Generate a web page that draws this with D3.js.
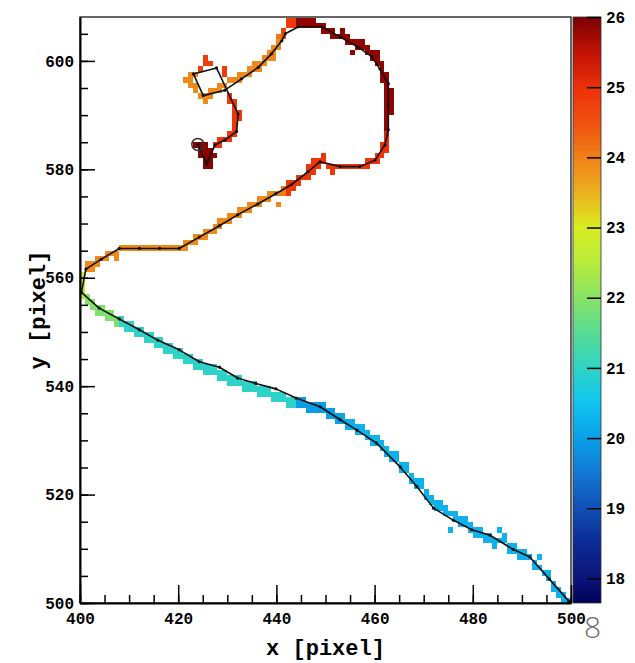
<!DOCTYPE html>
<html>
<head>
<meta charset="utf-8">
<script src="https://cdn.jsdelivr.net/npm/d3@7"></script>
<style>
  body { margin: 0; background: #fff; }
</style>
</head>
<body>
<div id="chart"></div>
<script>
// axis ranges and tick labels
const xDomain = [400, 500];
const yDomain = [500, 608.1];
const zDomain = [17.65, 26];
const xTicks = [400, 420, 440, 460, 480, 500];
const yTicks = [500, 520, 540, 560, 580, 600];
const zTicks = [18, 19, 20, 21, 22, 23, 24, 25, 26];
const minorStep = 5;

// palette stops (value -> colour) as seen on the colour bar
const paletteStops = [17.65, 18, 18.5, 19, 19.5, 20, 20.5, 21, 21.5, 22, 22.5, 23, 23.5, 24, 24.5, 25, 25.5, 26];
const paletteColors = ["#00005a", "#0a1478", "#0c2a94", "#1050b4", "#1278d4", "#0aa0e8", "#10c4f0", "#30d4c4",
  "#58dc94", "#88e264", "#b8ec3c", "#d8ec20", "#ecb020", "#f08018", "#f05010", "#ec3008", "#c01206", "#7a0000"];

// fitted track (black line with points)
const trackX = [499.6, 495.6, 491.6, 488.2, 483.5, 479.8, 476.0, 472.0, 468.6, 465.2, 460.4, 456.4, 453.0, 448.9,
  444.0, 439.9, 435.8, 432.1, 428.4, 424.3, 420.2, 415.8, 412.1, 408.0, 403.9, 400.3, 401.2, 404.3, 408.0, 412.1,
  416.2, 420.2, 424.3, 428.4, 432.1, 436.2, 439.9, 443.1, 446.5, 448.9, 453.0, 457.0, 460.1, 462.1, 462.8, 462.8,
  462.8, 461.1, 459.4, 456.7, 453.0, 449.2, 444.5, 441.8, 441.1, 439.0, 436.3, 432.9, 429.5, 425.1, 423.1, 427.8,
  432.2, 431.9, 429.5, 427.5, 425.8, 424.0];
const trackY = [500.3, 504.4, 508.5, 509.9, 512.5, 513.5, 515.3, 517.5, 521.5, 525.1, 529.5, 531.9, 533.8, 536.2,
  537.8, 539.5, 540.5, 541.5, 543.5, 544.5, 546.7, 548.5, 550.4, 552.4, 554.4, 557.3, 561.6, 563.4, 565.4, 565.4,
  565.4, 565.4, 567.5, 569.6, 571.6, 573.6, 575.5, 577.2, 579.6, 581.4, 580.5, 580.5, 581.7, 584.5, 587.3, 591.9,
  595.8, 598.5, 600.8, 602.5, 604.4, 606.3, 606.3, 605.0, 603.7, 601.3, 598.8, 596.7, 594.6, 593.6, 597.6, 598.7,
  590.2, 587.0, 585.4, 584.5, 581.0, 584.6];
const endPoint = [424.0, 584.6];

// pixel hits: [x, y, value]
const hits = [
  // light blue, lower right
  [499,500,20.25],[498,500,20.25],[498,501,20.25],[497,501,20.25],[497,502,20.25],[496,502,20.25],[496,503,20.25],
  [495,504,20.25],[494,505,20.25],[495,505,20.25],[493,506,20.25],[492,506,20.25],[492,507,20.25],[493,508,20.25],
  [491,508,20.25],[490,508,20.25],[490,509,20.25],[489,508,20.25],[489,509,20.25],[488,509,20.25],[488,510,20.25],
  [487,509,20.25],[487,510,20.25],[486,511,20.25],[486,512,20.25],[485,511,20.25],[485,513,20.25],[484,510,20.25],
  [484,511,20.25],[483,511,20.25],[483,512,20.25],[482,511,20.25],[482,512,20.25],[481,512,20.25],[481,513,20.25],
  [480,512,20.25],[480,513,20.25],[479,513,20.25],[479,514,20.25],[478,514,20.25],[478,515,20.25],[477,514,20.25],
  [477,515,20.25],[476,515,20.25],[476,516,20.25],[475,513,20.25],[475,516,20.25],[474,516,20.25],[474,517,20.25],
  [473,517,20.25],[473,518,20.25],[472,517,20.25],[472,518,20.25],[471,518,20.25],[471,519,20.25],[470,519,20.25],
  [470,520,20.25],[469,521,20.25],[469,522,20.25],[468,521,20.25],[468,522,20.25],[467,522,20.25],[467,523,20.25],
  [466,524,20.25],[466,525,20.25],[465,524,20.25],[465,525,20.25],[464,526,20.25],[464,527,20.25],[463,526,20.25],
  [463,527,20.25],[462,527,20.25],[462,528,20.25],[461,528,20.25],[461,529,20.25],[460,529,20.25],[460,530,20.25],
  [459,529,20.25],[459,530,20.25],[458,530,20.25],[458,531,20.25],[457,531,20.25],[457,532,20.25],[456,531,20.2],
  [456,532,20.2],[455,532,20.2],[455,533,20.2],[454,532,20.2],[454,533,20.2],[453,533,20.1],[453,534,20.1],
  [452,533,20.0],[452,534,20.0],[451,534,20.0],[451,535,20.0],[450,534,20.0],[450,535,20.0],[449,535,20.0],
  [449,536,20.0],
  // deeper blue
  [448,535,19.95],[448,536,19.95],[447,535,19.95],[447,536,19.95],[446,535,19.95],[446,536,19.95],[445,536,19.95],
  [445,537,19.95],[444,537,19.95],[444,536,19.95],
  // turquoise
  [443,536,20.95],[443,537,20.95],[442,536,20.95],[442,537,20.95],[441,537,20.95],[441,538,20.95],[440,537,20.95],
  [440,538,20.95],[439,537,20.95],[439,538,20.95],[438,538,20.95],[438,539,20.95],[437,538,20.95],[437,539,20.95],
  [436,538,20.95],[436,539,20.95],[435,539,20.95],[435,540,20.95],[434,539,20.95],[434,540,20.95],[433,539,20.95],
  [433,540,20.95],[432,540,20.95],[432,541,20.95],[431,540,20.95],[431,541,20.95],[430,540,20.95],[430,541,20.95],
  [429,541,20.95],[429,542,20.95],[428,541,20.95],[428,542,20.95],[427,542,20.95],[427,543,20.95],[426,542,20.95],
  [426,543,20.95],[425,542,20.95],[425,543,20.95],[424,543,20.95],[424,544,20.95],[423,543,20.95],[423,544,20.95],
  [422,544,20.95],[422,545,20.95],[421,544,20.95],[421,545,20.95],[420,545,20.95],[420,546,20.95],[419,545,20.95],
  [419,546,20.95],[418,546,20.95],[418,547,20.95],[417,546,20.95],[417,547,20.95],[416,547,20.95],[416,548,20.95],
  [415,547,20.95],[415,548,20.95],[414,548,20.95],[414,549,20.95],[413,548,20.95],[413,549,20.95],[412,549,20.95],
  [412,550,20.95],[411,549,20.95],[411,550,20.95],[410,550,20.95],[410,551,20.95],[409,550,20.95],[409,551,20.95],
  [408,551,21.0],[408,552,21.0],
  // green and yellow
  [407,551,21.9],[407,552,21.9],[406,552,21.9],[406,553,21.9],[405,552,21.9],[405,553,21.9],[404,553,21.9],
  [404,554,21.9],[403,553,21.9],[403,554,21.9],[402,554,21.95],[402,555,21.95],[401,555,22.0],[401,556,22.1],
  [400,556,22.4],[400,557,22.6],[400,558,22.85],[400,559,22.85],[400,560,22.9],
  // orange
  [401,561,23.9],[402,562,23.9],[401,562,23.9],[402,561,23.9],[403,563,23.9],[403,562,23.9],[404,563,23.9],
  [405,564,23.9],[405,563,23.9],[406,564,23.9],[407,563,23.9],[407,564,23.9],[408,565,23.9],[409,565,23.9],
  [410,565,23.9],[411,565,23.9],[412,565,23.9],[413,565,23.9],[414,565,23.9],[415,565,23.9],[416,565,23.9],
  [417,565,23.9],[418,565,23.9],[419,565,23.9],[420,565,23.9],[421,565,23.9],[421,566,23.9],[422,566,23.9],
  [423,566,23.9],[423,567,23.9],[424,567,23.9],[425,567,23.9],[425,568,23.9],[426,568,23.9],[427,568,23.9],
  [427,569,23.9],[428,569,23.9],[428,570,23.9],[429,570,23.9],[430,570,23.9],[430,571,23.9],[431,571,23.9],
  [432,571,23.9],[432,572,23.9],[433,572,23.9],[434,572,23.9],[434,573,23.9],[435,573,23.9],[436,573,23.9],
  [436,574,23.9],[437,574,23.9],[438,574,23.9],[438,575,23.9],[439,575,23.9],[440,573,23.95],[440,575,24.0],
  [441,575,24.05],[441,576,24.1],
  // red
  [442,575,24.9],[442,576,24.9],[442,577,24.9],[443,576,24.9],[443,577,24.9],[444,578,24.9],[444,577,24.9],
  [445,578,24.9],[446,578,24.9],[446,579,24.9],[446,580,24.9],[447,580,24.9],[447,579,24.9],[447,581,24.9],
  [448,581,24.9],[448,580,24.9],[449,582,24.9],[449,581,24.9],[450,580,24.9],[451,580,24.9],[451,579,24.9],
  [452,580,24.9],[453,580,24.9],[454,580,24.9],[455,580,24.9],[456,580,24.9],[457,580,24.9],[458,581,24.9],
  [458,580,24.9],[459,581,24.9],[460,581,24.9],[460,582,24.9],[461,582,24.9],[461,583,24.95],[461,584,25.0],
  [462,583,25.0],[462,584,25.0],[462,585,25.05],[462,586,25.2],
  // dark red loop
  [462,587,25.85],[462,588,25.85],[462,589,25.85],[462,590,25.85],[462,591,25.85],[462,592,25.85],[462,593,25.85],
  [462,594,25.85],[462,595,25.85],[462,596,25.85],[463,590,25.85],[463,591,25.85],[463,592,25.85],[463,593,25.85],
  [463,594,25.85],[462,597,25.85],[461,596,25.85],[461,597,25.85],[461,598,25.85],[461,599,25.85],[460,599,25.85],
  [460,600,25.85],[460,601,25.85],[459,600,25.85],[459,601,25.85],[458,601,25.85],[458,602,25.85],[457,602,25.85],
  [457,603,25.85],[456,602,25.85],[456,603,25.85],[455,601,25.85],[455,603,25.85],[454,603,25.85],[454,604,25.85],
  [453,604,25.85],[453,605,25.85],[452,604,25.85],[451,604,25.85],[451,605,25.85],[450,605,25.85],[449,605,25.85],
  [449,606,25.85],[448,606,25.85],[447,606,25.85],[446,606,25.85],[445,606,25.85],[444,606,25.85],[447,607,25.85],
  [446,607,25.85],[445,607,25.85],[444,607,25.85],
  // red at the top
  [443,606,24.8],[442,606,24.8],[442,607,24.8],[443,607,24.8],[441,605,24.7],[441,604,24.5],
  // orange curve and the small loop
  [440,604,24.1],[440,603,23.9],[440,602,23.9],[439,602,23.9],[439,601,23.9],[438,601,23.9],[438,600,23.9],
  [439,600,23.9],[437,600,23.9],[437,599,23.9],[436,599,23.9],[436,598,23.9],[435,599,23.9],[435,598,23.9],
  [434,598,23.9],[434,597,23.9],[433,597,23.9],[432,597,23.9],[432,596,23.9],[431,596,23.9],[430,596,23.9],
  [429,595,23.9],[428,595,23.9],[428,594,23.9],[427,594,23.9],[426,594,23.9],[426,593,23.9],[425,593,23.9],
  [425,592,23.9],[424,593,23.9],[423,594,23.9],[423,595,23.9],[422,595,23.9],[422,596,23.9],[422,597,23.9],
  [423,597,23.9],[421,596,23.9],
  [424,598,24.8],[425,599,24.8],[425,600,24.8],[426,599,24.8],[429,597,24.8],[429,598,24.8],
  // red descent
  [431,592,24.9],[431,591,24.9],[430,593,24.9],[430,592,24.9],[431,590,24.9],[431,589,24.9],[432,589,24.9],
  [432,590,24.9],[431,588,24.9],[431,587,24.9],[430,586,24.9],[431,586,24.9],[430,585,24.9],[429,585,24.9],
  [428,584,24.9],[428,585,24.9],[427,584,24.95],
  // dark red end
  [423,584,25.9],[424,584,25.9],[425,584,25.9],[424,583,25.9],[425,583,25.9],[426,583,25.9],[424,582,25.9],
  [425,582,25.9],[426,582,25.9],[427,582,25.9],[425,581,25.9],[426,581,25.9],[425,580,25.9],[426,580,25.9]
];

const width = 635, height = 663;
const frame = { left: 80, right: 571, top: 17, bottom: 603 };
const bar = { left: 573, right: 601 };
const monoFont = "'Liberation Mono', 'DejaVu Sans Mono', monospace";

const x = d3.scaleLinear().domain(xDomain).range([frame.left, frame.right]);
const y = d3.scaleLinear().domain(yDomain).range([frame.bottom, frame.top]);
const z = d3.scaleLinear().domain(zDomain).range([frame.bottom, frame.top]);
const color = d3.scaleLinear().domain(paletteStops).range(paletteColors).clamp(true);

const svg = d3.select("#chart").append("svg")
    .attr("width", width)
    .attr("height", height);

svg.append("rect").attr("width", width).attr("height", height).attr("fill", "#fff");

const plot = svg.append("g");

// hits
plot.append("g")
    .attr("shape-rendering", "crispEdges")
  .selectAll("rect")
  .data(hits)
  .join("rect")
    .attr("x", d => x(d[0]))
    .attr("y", d => y(d[1] + 1))
    .attr("width", d => x(d[0] + 1) - x(d[0]))
    .attr("height", d => y(d[1]) - y(d[1] + 1))
    .attr("fill", d => color(d[2]));

// track
const track = trackX.map((v, i) => [v, trackY[i]]);
plot.append("path")
    .attr("fill", "none")
    .attr("stroke", "#111")
    .attr("stroke-width", 1.6)
    .attr("stroke-linejoin", "round")
    .attr("d", d3.line().x(d => x(d[0])).y(d => y(d[1]))(track));

plot.append("g")
  .selectAll("circle")
  .data(track)
  .join("circle")
    .attr("cx", d => x(d[0]))
    .attr("cy", d => y(d[1]))
    .attr("r", 1.6)
    .attr("fill", "#111");

plot.append("circle")
    .attr("cx", x(endPoint[0]))
    .attr("cy", y(endPoint[1]))
    .attr("r", 6)
    .attr("fill", "none")
    .attr("stroke", "#333")
    .attr("stroke-width", 1.5);

// frame
svg.append("rect")
    .attr("x", frame.left).attr("y", frame.top)
    .attr("width", frame.right - frame.left).attr("height", frame.bottom - frame.top)
    .attr("fill", "none").attr("stroke", "#000").attr("stroke-width", 1.2);

// axes
const xMinor = d3.range(xDomain[0], xDomain[1] + 0.1, minorStep);
const yMinor = d3.range(yDomain[0], yDomain[1], minorStep);

const axisStyle = g => {
  g.select(".domain").attr("stroke-width", 2);
  g.selectAll(".tick line").attr("stroke-width", 1.5);
  g.selectAll("text").attr("font-size", 16).attr("fill", "#000")
    .attr("font-family", monoFont).attr("font-weight", "bold");
};

svg.append("g")
    .attr("transform", `translate(0,${frame.bottom})`)
    .call(d3.axisBottom(x).tickValues(xMinor).tickSize(-8).tickFormat(""))
    .call(g => g.select(".domain").remove())
    .call(g => g.selectAll(".tick line").attr("stroke-width", 1.5));
svg.append("g")
    .attr("transform", `translate(0,${frame.bottom})`)
    .call(d3.axisBottom(x).tickValues(xTicks).tickSize(-18).tickSizeOuter(0).tickPadding(10).tickFormat(d3.format("d")))
    .call(axisStyle);

svg.append("g")
    .attr("transform", `translate(${frame.left},0)`)
    .call(d3.axisLeft(y).tickValues(yMinor).tickSize(-8).tickFormat(""))
    .call(g => g.select(".domain").remove())
    .call(g => g.selectAll(".tick line").attr("stroke-width", 1.5));
svg.append("g")
    .attr("transform", `translate(${frame.left},0)`)
    .call(d3.axisLeft(y).tickValues(yTicks).tickSize(-15).tickSizeOuter(0).tickPadding(6).tickFormat(d3.format("d")))
    .call(axisStyle);

svg.append("text")
    .attr("x", (frame.left + frame.right) / 2)
    .attr("y", 655)
    .attr("text-anchor", "middle")
    .attr("font-family", monoFont)
    .attr("font-weight", "bold")
    .attr("font-size", 22)
    .text("x [pixel]");

svg.append("text")
    .attr("transform", `translate(45,${(frame.top + frame.bottom) / 2}) rotate(-90)`)
    .attr("text-anchor", "middle")
    .attr("font-family", monoFont)
    .attr("font-weight", "bold")
    .attr("font-size", 22)
    .text("y [pixel]");

// colour bar
const barSteps = d3.range(frame.top, frame.bottom, 1);
svg.append("g")
    .attr("shape-rendering", "crispEdges")
  .selectAll("rect")
  .data(barSteps)
  .join("rect")
    .attr("x", bar.left)
    .attr("y", d => d)
    .attr("width", bar.right - bar.left)
    .attr("height", 1.2)
    .attr("fill", d => color(z.invert(d + 0.5)));

svg.append("rect")
    .attr("x", bar.left).attr("y", frame.top)
    .attr("width", bar.right - bar.left).attr("height", frame.bottom - frame.top)
    .attr("fill", "none").attr("stroke", "#333").attr("stroke-width", 0.8);

svg.append("g")
    .attr("transform", `translate(${bar.right},0)`)
    .call(d3.axisRight(z).tickValues(zTicks).tickSize(-14).tickSizeOuter(0).tickPadding(5).tickFormat(d3.format("d")))
    .call(g => g.select(".domain").remove())
    .call(axisStyle);

// slide page number in the corner
svg.append("text")
    .attr("x", 584)
    .attr("y", 638)
    .attr("font-family", "'Open Sans', sans-serif")
    .attr("font-weight", 300)
    .attr("font-size", 30)
    .attr("fill", "#6a6a6a")
    .text("8");
</script>
</body>
</html>
